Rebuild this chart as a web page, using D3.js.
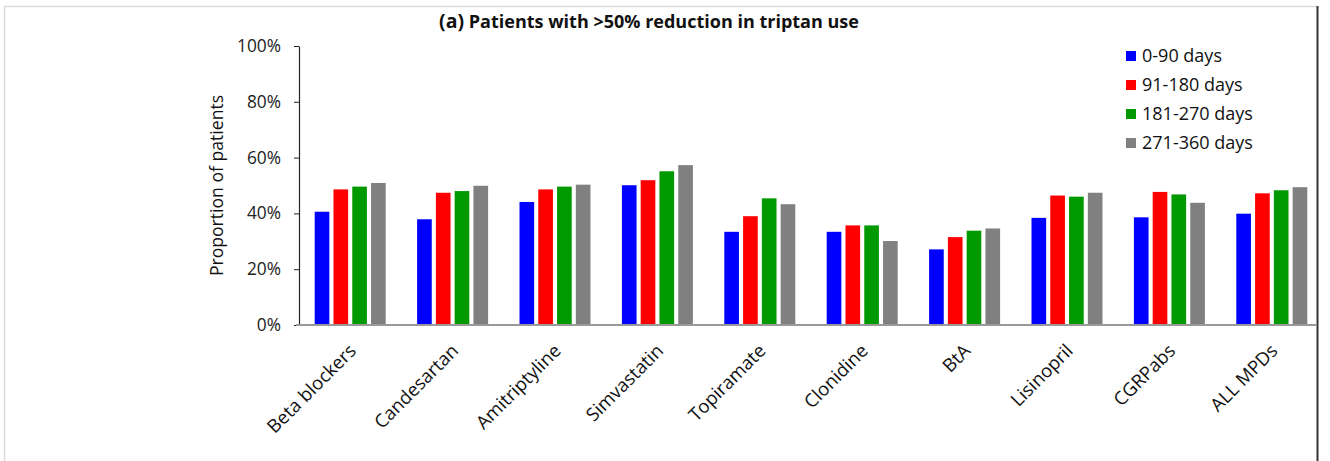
<!DOCTYPE html>
<html>
<head>
<meta charset="utf-8">
<script src="https://cdn.jsdelivr.net/npm/d3@7"></script>
<style>
  html, body { margin: 0; padding: 0; background: #fff; }
  svg { display: block; font-family: "Open Sans", Lato, sans-serif; }
</style>
</head>
<body>
<svg id="chart" width="1330" height="461"></svg>
<script>
// Medications compared
const categories = ["Beta blockers", "Candesartan", "Amitriptyline", "Simvastatin", "Topiramate",
                    "Clonidine", "BtA", "Lisinopril", "CGRPabs", "ALL MPDs"];
// Follow-up windows
const periods = ["0-90 days", "91-180 days", "181-270 days", "271-360 days"];
// Share of patients with >50% reduction in triptan use, per window
const days0to90    = [0.406, 0.379, 0.441, 0.501, 0.334, 0.334, 0.271, 0.384, 0.386, 0.399];
const days91to180  = [0.486, 0.474, 0.486, 0.519, 0.390, 0.357, 0.315, 0.464, 0.477, 0.472];
const days181to270 = [0.496, 0.480, 0.496, 0.551, 0.454, 0.357, 0.338, 0.460, 0.468, 0.483];
const days271to360 = [0.509, 0.499, 0.503, 0.573, 0.433, 0.301, 0.346, 0.474, 0.438, 0.494];
const yTicks = [0, 0.2, 0.4, 0.6, 0.8, 1.0];
const colors = ["#0000ff", "#ff0000", "#009900", "#808080"];

const series = [days0to90, days91to180, days181to270, days271to360];

const svg = d3.select("#chart");

// Figure frame
svg.append("line").attr("x1", 4.5).attr("x2", 1317).attr("y1", 6.5).attr("y2", 6.5)
  .attr("stroke", "#dcdcdc").attr("stroke-width", 1.5);
svg.append("line").attr("x1", 4.5).attr("x2", 4.5).attr("y1", 6.5).attr("y2", 461)
  .attr("stroke", "#dcdcdc").attr("stroke-width", 1.5);
svg.append("line").attr("x1", 1317.5).attr("x2", 1317.5).attr("y1", 6).attr("y2", 461)
  .attr("stroke", "#333").attr("stroke-width", 2);

const plot = { left: 299, right: 1323, top: 46, bottom: 325 };

const x = d3.scaleBand().domain(categories).range([plot.left, plot.right]).paddingInner(0).paddingOuter(0);
const groupWidth = 71;
const xInner = d3.scaleBand().domain(periods).range([0, groupWidth]).paddingInner(0.22);
const y = d3.scaleLinear().domain([0, 1]).range([plot.bottom, plot.top]);

// Bars
categories.forEach((cat, i) => {
  const g = svg.append("g")
    .attr("transform", `translate(${x(cat) + x.bandwidth() / 2 - groupWidth / 2},0)`);
  g.selectAll("rect")
    .data(periods.map((p, j) => ({ p, v: series[j][i], c: colors[j] })))
    .join("rect")
    .attr("x", d => xInner(d.p))
    .attr("width", xInner.bandwidth())
    .attr("y", d => y(d.v))
    .attr("height", d => y(0) - y(d.v))
    .attr("fill", d => d.c);
});

// Y axis
const yAxis = d3.axisLeft(y).tickValues(yTicks).tickFormat(d3.format(".0%")).tickSize(5).tickSizeOuter(0);
const yg = svg.append("g").attr("transform", `translate(${plot.left},0)`).call(yAxis);
yg.select(".domain").attr("stroke", "#222").attr("stroke-width", 1.2);
yg.selectAll(".tick line").attr("stroke", "#222");
yg.selectAll(".tick text").attr("font-size", 17.3).attr("fill", "#222").attr("x", -18)
  .attr("font-family", "'Open Sans', sans-serif");

// X axis baseline
const xg = svg.append("g").attr("transform", `translate(0,${plot.bottom})`)
  .call(d3.axisBottom(x).tickSize(0).tickSizeOuter(0).tickFormat(""));
xg.select(".domain").attr("stroke", "#999").attr("stroke-width", 2)
  .attr("d", `M${plot.left - 3},0H1317`);

// Category labels, slanted
svg.append("g").selectAll("text")
  .data(categories)
  .join("text")
  .attr("transform", d => `translate(${x(d) + x.bandwidth() / 2 + 7},${plot.bottom + 27}) rotate(-45)`)
  .attr("text-anchor", "end")
  .attr("font-size", 18.5)
  .attr("fill", "#111")
  .text(d => d);

// Y axis title
svg.append("text")
  .attr("transform", `translate(223,${(plot.top + plot.bottom) / 2}) rotate(-90)`)
  .attr("text-anchor", "middle")
  .attr("font-size", 17.6)
  .attr("fill", "#111")
  .text("Proportion of patients");

// Chart title
const title = svg.append("text")
  .attr("x", 649).attr("y", 28)
  .attr("text-anchor", "middle")
  .attr("font-weight", "bold")
  .attr("fill", "#111");
title.append("tspan").attr("font-size", 19.5).text("(a)");
title.append("tspan").attr("font-size", 18).text(" Patients with >50% reduction in triptan use");

// Legend
const legend = svg.append("g").attr("transform", "translate(1126,56)");
const items = legend.selectAll("g").data(periods).join("g")
  .attr("transform", (d, i) => `translate(0,${i * 29})`);
items.append("rect").attr("x", 0).attr("y", -5).attr("width", 10).attr("height", 10)
  .attr("fill", (d, i) => colors[i]);
items.append("text").attr("x", 16).attr("y", 0).attr("dy", "0.35em")
  .attr("font-size", 18).attr("fill", "#111").text(d => d);
</script>
</body>
</html>
